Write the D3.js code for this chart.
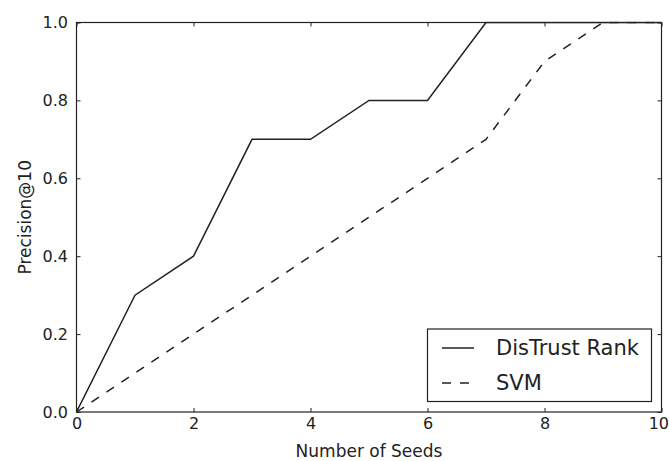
<!DOCTYPE html>
<html><head><meta charset="utf-8">
<script src="https://cdn.jsdelivr.net/npm/d3@7"></script>
<style>body{margin:0;background:#fff}svg{display:block}text{font-family:"DejaVu Sans",sans-serif;fill:#222}</style>
</head><body><svg id="c" width="669" height="461"></svg>
<script>
const seeds = [0, 1, 2, 3, 4, 5, 6, 7, 8, 9, 10];
const distrust = [0, 0.3, 0.4, 0.7, 0.7, 0.8, 0.8, 1.0, 1.0, 1.0, 1.0];
const svmVals = [0, 0.1, 0.2, 0.3, 0.4, 0.5, 0.6, 0.7, 0.9, 1.0, 1.0];
const xTicks = [0, 2, 4, 6, 8, 10];
const yTicks = [0, 0.2, 0.4, 0.6, 0.8, 1.0];

const svg = d3.select("#c");
const L = 76.5, R = 661.5, T = 22.5, B = 412;
const x = d3.scaleLinear().domain([0, 10]).range([L, R]);
const y = d3.scaleLinear().domain([0, 1]).range([B, T]);
const dash = "9,9";

svg.append("clipPath").attr("id", "pc").append("rect")
  .attr("x", L).attr("y", T - 1).attr("width", R - L).attr("height", B - T + 2);

const line = d3.line().x((d, i) => x(seeds[i])).y(d => y(d));
const g = svg.append("g").attr("clip-path", "url(#pc)");
g.append("path").datum(distrust).attr("d", line).attr("fill", "none")
  .attr("stroke", "#222").attr("stroke-width", 1.5);
g.append("path").datum(svmVals).attr("d", line).attr("fill", "none")
  .attr("stroke", "#222").attr("stroke-width", 1.5).attr("stroke-dasharray", dash);

// inward ticks on all four sides
const tk = 4;
const axB = d3.axisBottom(x).tickValues(xTicks).tickSizeInner(-tk).tickSizeOuter(0).tickPadding(6).tickFormat(d3.format("d"));
const axT = d3.axisTop(x).tickValues(xTicks).tickSizeInner(-tk).tickSizeOuter(0).tickFormat("");
const axL = d3.axisLeft(y).tickValues(yTicks).tickSizeInner(-tk).tickSizeOuter(0).tickPadding(8.5).tickFormat(d3.format(".1f"));
const axR = d3.axisRight(y).tickValues(yTicks).tickSizeInner(-tk).tickSizeOuter(0).tickFormat("");
function style(sel) {
  sel.select(".domain").remove();
  sel.selectAll("line").attr("stroke", "#222");
  sel.selectAll("text").attr("font-size", 16).attr("fill", "#333")
    .style("font-family", "DejaVu Sans");
}
const gx = svg.append("g").attr("transform", `translate(0,${B})`).call(axB).call(style);
// keep the last x label inside the page edge
gx.selectAll(".tick text").filter(d => d === 10).attr("text-anchor", "end").attr("x", 7);
svg.append("g").attr("transform", `translate(0,${T})`).call(axT).call(style);
svg.append("g").attr("transform", `translate(${L},0)`).call(axL).call(style);
svg.append("g").attr("transform", `translate(${R},0)`).call(axR).call(style);

svg.append("rect").attr("x", L).attr("y", T).attr("width", R - L).attr("height", B - T)
  .attr("fill", "none").attr("stroke", "#222").attr("stroke-width", 1.2);

svg.append("text").attr("x", (L + R) / 2).attr("y", 457).attr("text-anchor", "middle")
  .attr("font-size", 17).text("Number of Seeds");
svg.append("text").attr("transform", `translate(31,${(T + B) / 2}) rotate(-90)`)
  .attr("text-anchor", "middle").attr("font-size", 17).text("Precision@10");

// legend
const lg = svg.append("g");
lg.append("rect").attr("x", 427.5).attr("y", 329).attr("width", 224).attr("height", 72.5)
  .attr("fill", "#fff").attr("stroke", "#222").attr("stroke-width", 1.2);
const entries = [["DisTrust Rank", null, 348], ["SVM", dash, 383]];
entries.forEach(([name, da, yy]) => {
  lg.append("line").attr("x1", 442).attr("x2", 474).attr("y1", yy).attr("y2", yy)
    .attr("stroke", "#222").attr("stroke-width", 1.5).attr("stroke-dasharray", da);
  lg.append("text").attr("x", 496).attr("y", yy).attr("dy", "0.35em")
    .attr("font-size", 21).text(name);
});
</script></body></html>
